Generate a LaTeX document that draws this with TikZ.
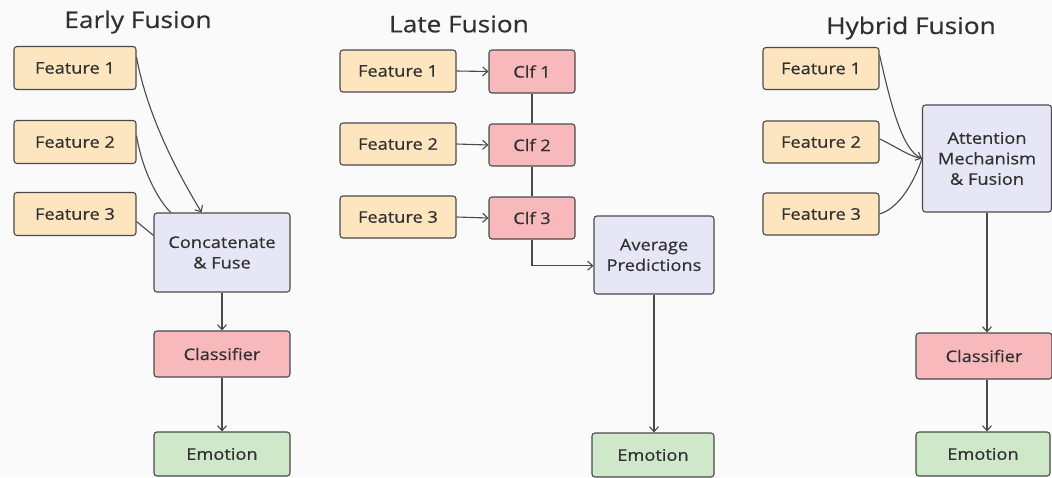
\documentclass[tikz,border=0pt]{standalone}
\usepackage{fontspec}
\setmainfont{Open Sans}[FakeStretch=1.14, FakeBold=0.5]
\usetikzlibrary{arrows.meta}
\definecolor{featfill}{HTML}{FDE6BF}
\definecolor{clffill}{HTML}{F8B9BD}
\definecolor{fusefill}{HTML}{E6E6F7}
\definecolor{emofill}{HTML}{CFE8C9}
\definecolor{edge}{HTML}{4A4A4A}
\definecolor{ink}{HTML}{303030}
\definecolor{bg}{HTML}{FAFAFA}
\tikzset{
  box/.style={draw=edge, line width=1.1pt, rounded corners=3pt, align=center,
    inner sep=0pt, text=ink, font=\fontsize{16}{20.5}\selectfont},
  feat/.style={box, fill=featfill, minimum width=122pt, minimum height=43pt},
  hfeat/.style={box, fill=featfill, minimum width=116pt, minimum height=42pt},
  clf/.style={box, fill=clffill},
  fuse/.style={box, fill=fusefill},
  emo/.style={box, fill=emofill},
  title/.style={text=ink, font=\fontsize{23}{26}\selectfont},
  link/.style={draw=edge, line width=1.1pt},
  arr/.style={link, -{Straight Barb[length=5pt,width=9pt]}}
}
\begin{document}
\begin{tikzpicture}[x=1pt,y=-1pt]
\fill[bg] (0,0) rectangle (1052,477);
\useasboundingbox (0,0) rectangle (1052,477);

% Early fusion
\node[title] (t1) at (138,22) {Early Fusion};
\node[feat] (ef1) at (75,68) {Feature 1};
\node[feat] (ef2) at (75,142) {Feature 2};
\node[feat] (ef3) at (75,214) {Feature 3};
\node[fuse, minimum width=136pt, minimum height=79pt] (ecat) at (222,252.5) {Concatenate\\\& Fuse};
\node[clf, minimum width=136pt, minimum height=46pt] (ecls) at (222,354) {Classifier};
\node[emo, minimum width=136pt, minimum height=44pt] (eemo) at (222,454) {Emotion};
\draw[arr] (ef1.10) .. controls (148,120) and (182,180) .. (ecat.117);
\draw[link] (ef2.6) .. controls (142,170) and (158,200) .. (ecat.142);
\draw[link] (ef3.-7) -- (ecat.166);
\draw[arr] (ecat.south) -- (ecls.north);
\draw[arr] (ecls.south) -- (eemo.north);

% Late fusion
\node[title] (t2) at (459,24) {Late Fusion};
\node[feat, minimum width=116pt, minimum height=42pt] (lf1) at (398,71) {Feature 1};
\node[feat, minimum width=116pt, minimum height=42pt] (lf2) at (398,144) {Feature 2};
\node[feat, minimum width=116pt, minimum height=42pt] (lf3) at (398,217) {Feature 3};
\node[clf, minimum width=86pt, minimum height=43pt] (lc1) at (532,71.5) {Clf 1};
\node[clf, minimum width=86pt, minimum height=42pt] (lc2) at (532,145) {Clf 2};
\node[clf, minimum width=86pt, minimum height=42pt] (lc3) at (532,218) {Clf 3};
\node[fuse, minimum width=120pt, minimum height=78pt] (lavg) at (654,255) {Average\\Predictions};
\node[emo, minimum width=122pt, minimum height=44pt] (lemo) at (653,455) {Emotion};
\draw[arr] (lf1.east) -- (lc1.west);
\draw[arr] (lf2.east) -- (lc2.west);
\draw[arr] (lf3.east) -- (lc3.west);
\draw[link] (lc1.south) -- (lc2.north);
\draw[link] (lc2.south) -- (lc3.north);
\draw[arr] (lc3.south) |- (lavg.190);
\draw[arr] (lavg.south) -- (lavg.south |- lemo.north);

% Hybrid fusion
\node[title] (t3) at (911,28) {Hybrid Fusion};
\node[hfeat] (hf1) at (821,68.5) {Feature 1};
\node[hfeat] (hf2) at (821,142) {Feature 2};
\node[hfeat] (hf3) at (821,214) {Feature 3};
\node[fuse, minimum width=129pt, minimum height=107pt] (hatt) at (987,158.5) {Attention\\Mechanism\\\& Fusion};
\node[clf, minimum width=136pt, minimum height=46pt] (hcls) at (984,356) {Classifier};
\node[emo, minimum width=134pt, minimum height=44pt] (hemo) at (983,454) {Emotion};
\draw[arr] (hf1.13) .. controls (892,110) and (903,150) .. (hatt.west);
\draw[link] (hf2.3) .. controls (895,146) and (910,157) .. (hatt.west);
\draw[link] (hf3.east) .. controls (900,208) and (915,180) .. (hatt.west);
\draw[arr] (hatt.south) -- (hatt.south |- hcls.north);
\draw[arr] (hatt.south |- hcls.south) -- (hatt.south |- hemo.north);
\end{tikzpicture}
\end{document}
